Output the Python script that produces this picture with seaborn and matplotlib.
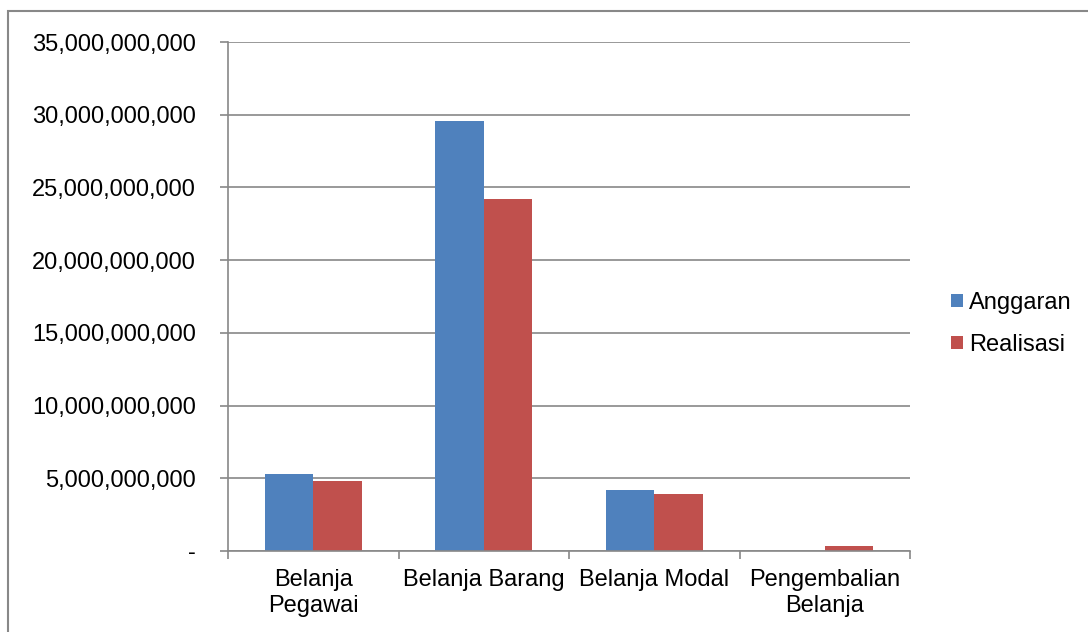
import matplotlib
matplotlib.use("Agg")
import matplotlib.pyplot as plt
import seaborn as sns
import pandas as pd
import numpy as np
from matplotlib.ticker import FuncFormatter, FixedLocator, NullLocator
from matplotlib.patches import Rectangle

categories = ["Belanja\nPegawai", "Belanja Barang", "Belanja Modal", "Pengembalian\nBelanja"]
anggaran = [5.28e9, 29.54e9, 4.19e9, 0.0]
realisasi = [4.83e9, 24.17e9, 3.92e9, 0.32e9]
series = ["Anggaran", "Realisasi"]
colors = ["#4F81BD", "#C0504D"]
yticks = [0, 5e9, 10e9, 15e9, 20e9, 25e9, 30e9, 35e9]

df = pd.DataFrame({
    "cat": categories * 2,
    "val": anggaran + realisasi,
    "series": [series[0]] * 4 + [series[1]] * 4,
})

sns.set_style("white")
plt.rcParams["font.family"] = ["Liberation Sans", "DejaVu Sans"]
plt.rcParams["text.color"] = "black"
plt.rcParams["xtick.labelcolor"] = "black"
plt.rcParams["ytick.labelcolor"] = "black"
FS = 17
W, H = 1088, 632
fig = plt.figure(figsize=(W / 100, H / 100), dpi=100)
ax = fig.add_axes([228 / W, 1 - 551 / H, (910 - 228) / W, (551 - 42) / H])

sns.barplot(data=df, x="cat", y="val", hue="series", palette=colors,
            width=2 / 3.5, gap=0, linewidth=0, saturation=1, ax=ax, legend=True)

grid_c = "#888888"
ax.set_xlim(-0.5, 3.5)
ax.set_ylim(0, 35e9)
ax.yaxis.set_major_locator(FixedLocator(yticks))
ax.yaxis.set_major_formatter(FuncFormatter(lambda v, p: "-" if v == 0 else f"{v:,.0f}"))
ax.grid(axis="y", color=grid_c, linewidth=1.2)
ax.set_axisbelow(True)
ax.tick_params(axis="y", which="major", length=6, width=1.2, color=grid_c,
               labelsize=FS, pad=17, direction="out", left=True, labelcolor="black")
ax.xaxis.set_minor_locator(FixedLocator([-0.5, 0.5, 1.5, 2.5, 3.5]))
ax.tick_params(axis="x", which="major", length=0, labelsize=FS, pad=13, labelcolor="black")
ax.tick_params(axis="x", which="minor", length=6, width=1.2, color=grid_c,
               direction="out", bottom=True)
for lab in ax.get_xticklabels():
    lab.set_linespacing(1.22)
ax.set_xlabel("")
ax.set_ylabel("")
for s in ["top", "right"]:
    ax.spines[s].set_visible(False)
for s in ["left", "bottom"]:
    ax.spines[s].set_color(grid_c)
    ax.spines[s].set_linewidth(1.2)

handles, labels = ax.get_legend_handles_labels()
leg = ax.legend(handles, labels, loc="center left", bbox_to_anchor=(951 / W, 1 - 324 / H),
                bbox_transform=fig.transFigure, frameon=False, fontsize=FS,
                handlelength=0.5, handleheight=0.5, handletextpad=0.25, labelspacing=0.85,
                borderpad=0, borderaxespad=0)
for t in leg.get_texts():
    t.set_color("black")

fig.patches.append(Rectangle((8 / W, -0.1), 1.2, 1 - 11 / H + 0.1, transform=fig.transFigure,
                             fill=False, edgecolor=grid_c, linewidth=1.5))

fig.savefig("out.png", dpi=100)
